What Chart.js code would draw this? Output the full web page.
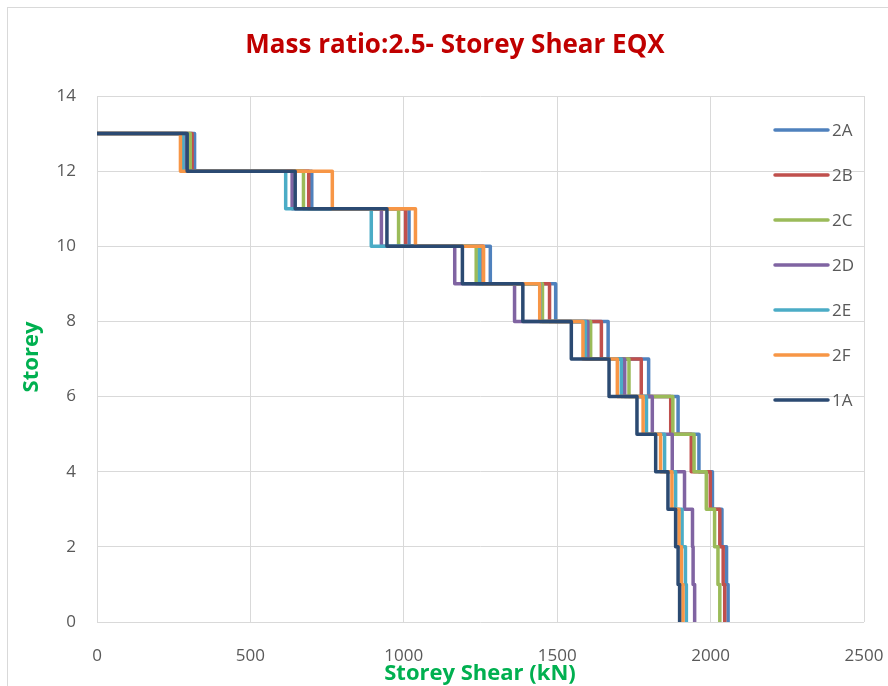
<!DOCTYPE html>
<html>
<head>
<meta charset="utf-8">
<script src="https://cdn.jsdelivr.net/npm/chart.js@4.4.1/dist/chart.umd.min.js"></script>
<style>
  html, body { margin: 0; padding: 0; background: #fff; }
  #wrap { width: 888px; height: 686px; position: relative; }
</style>
</head>
<body>
<div id="wrap"><canvas id="shearChart" width="888" height="686"></canvas></div>
<script>
// storey levels, top storey first
const storeys = [13, 12, 11, 10, 9, 8, 7, 6, 5, 4, 3, 2, 1];

// storey shear (kN) per storey, same order as storeys
const seriesNames = ['2A', '2B', '2C', '2D', '2E', '2F', '1A'];
const shear2A = [318, 700, 1017, 1282, 1495, 1666, 1798, 1894, 1962, 2006, 2037, 2052, 2057];
const shear2B = [310, 690, 1006, 1258, 1475, 1644, 1774, 1870, 1937, 1999, 2030, 2041, 2046];
const shear2C = [304, 673, 983, 1236, 1452, 1609, 1734, 1877, 1946, 1986, 2013, 2024, 2030];
const shear2D = [290, 636, 927, 1166, 1361, 1600, 1720, 1810, 1875, 1915, 1941, 1943, 1948];
const shear2E = [280, 615, 894, 1247, 1445, 1592, 1709, 1791, 1850, 1886, 1907, 1918, 1921];
const shear2F = [272, 767, 1038, 1260, 1443, 1584, 1696, 1780, 1837, 1874, 1897, 1905, 1910];
const shear1A = [294, 646, 945, 1191, 1388, 1546, 1669, 1760, 1821, 1861, 1886, 1894, 1899];
const seriesColors = ['#4F81BD', '#C0504D', '#9BBB59', '#8064A2', '#4BACC6', '#F79646', '#2B4A72'];

const xTicks = [0, 500, 1000, 1500, 2000, 2500];
const yTicks = [0, 2, 4, 6, 8, 10, 12, 14];

const TICK_COLOR = '#595959';
const GRID_COLOR = '#D9D9D9';

// shear is constant over a storey height -> stepped profile
function stepPoints(values) {
  const pts = [{ x: 0, y: storeys[0] }];
  values.forEach((v, i) => {
    pts.push({ x: v, y: storeys[i] });
    pts.push({ x: v, y: storeys[i] - 1 });
  });
  return pts;
}

const allSeries = [shear2A, shear2B, shear2C, shear2D, shear2E, shear2F, shear1A];

const datasets = allSeries.map((vals, i) => ({
  label: seriesNames[i],
  data: stepPoints(vals),
  borderColor: seriesColors[i],
  backgroundColor: seriesColors[i],
  borderWidth: 3.5,
  showLine: true,
  pointRadius: 0,
  tension: 0,
  borderJoinStyle: 'round',
  borderCapStyle: 'round',
  order: allSeries.length - 1 - i, // last series (1A) drawn on top
}));

const textPlugin = {
  id: 'textPlugin',
  beforeDraw(chart) {
    const c = chart.ctx;
    c.save();
    c.fillStyle = '#fff';
    c.fillRect(0, 0, chart.width, chart.height);
    c.strokeStyle = '#D9D9D9';
    c.lineWidth = 1;
    c.strokeRect(7.5, 7.5, 920, 720);
    c.restore();
  },
  afterDraw(chart) {
    const c = chart.ctx;
    c.save();
    // title
    c.fillStyle = '#C00000';
    c.font = "bold 26px 'Open Sans', sans-serif";
    c.textAlign = 'center';
    c.textBaseline = 'middle';
    c.fillText('Mass ratio:2.5- Storey Shear EQX', 455, 46);

    // axis titles
    c.fillStyle = '#00B050';
    c.font = "bold 22px 'Open Sans', sans-serif";
    c.fillText('Storey Shear (kN)', 480, 674);
    c.translate(32, 357);
    c.rotate(-Math.PI / 2);
    c.fillText('Storey', 0, 0);
    c.restore();

    // legend over the plot, right side
    c.save();
    c.font = "17px 'Open Sans', sans-serif";
    c.textAlign = 'left';
    c.textBaseline = 'middle';
    chart.data.datasets.forEach((ds, i) => {
      const y = 130 + i * 45;
      c.strokeStyle = ds.borderColor;
      c.lineWidth = 3.5;
      c.lineCap = 'round';
      c.beginPath();
      c.moveTo(775, y);
      c.lineTo(828, y);
      c.stroke();
      c.fillStyle = TICK_COLOR;
      c.fillText(ds.label, 832, y + 1);
    });
    c.restore();
  }
};

new Chart(document.getElementById('shearChart'), {
  type: 'scatter',
  data: { datasets },
  options: {
    responsive: false,
    animation: false,
    layout: { padding: { top: 96, right: 24, bottom: 0, left: 0 } },
    plugins: {
      legend: { display: false },
      title: { display: false },
      tooltip: { enabled: false },
    },
    scales: {
      x: {
        type: 'linear',
        min: 0,
        max: 2500,
        afterFit: s => { s.height = 64; s.paddingLeft = 0; s.paddingRight = 0; },
        afterBuildTicks: s => { s.ticks = xTicks.map(v => ({ value: v })); },
        grid: { color: GRID_COLOR, lineWidth: 1, drawTicks: false },
        border: { display: false },
        ticks: {
          color: TICK_COLOR,
          padding: 24,
          maxRotation: 0,
          callback: v => String(v),
          font: { family: "'Open Sans', sans-serif", size: 17 },
        },
      },
      y: {
        type: 'linear',
        min: 0,
        max: 14,
        afterFit: s => { s.width = 97; s.paddingTop = 0; s.paddingBottom = 0; },
        afterBuildTicks: s => { s.ticks = yTicks.map(v => ({ value: v })); },
        grid: { color: GRID_COLOR, lineWidth: 1, drawTicks: false },
        border: { display: false },
        ticks: {
          color: TICK_COLOR,
          padding: 21,
          callback: v => String(v),
          font: { family: "'Open Sans', sans-serif", size: 17 },
        },
      },
    },
  },
  plugins: [textPlugin],
});
</script>
</body>
</html>
